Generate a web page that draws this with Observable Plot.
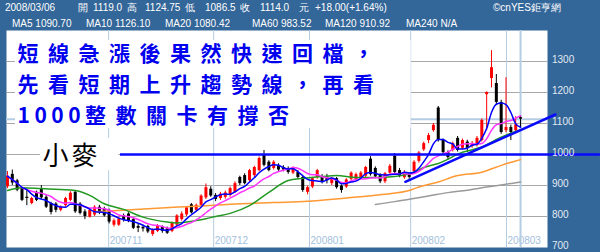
<!DOCTYPE html>
<html><head><meta charset="utf-8">
<script src="https://cdn.jsdelivr.net/npm/d3@7"></script>
<script src="https://cdn.jsdelivr.net/npm/@observablehq/plot@0.6"></script>
<style>
html,body{margin:0;padding:0;background:#336699;}
#wrap{position:relative;width:600px;height:252px;overflow:hidden;background:#336699;}
#head{position:absolute;left:0;top:0;width:600px;height:30px;font-family:"Liberation Sans",Arial,sans-serif;font-size:10px;color:#ffffff;}
#head span{position:absolute;white-space:pre;line-height:10px;}
#chart{position:absolute;left:0;top:30px;}
</style></head>
<body><div id="wrap"><div id="head"></div><div id="chart"></div></div>
<script>
// ---- header texts ----
const headerRow1 = [["2008/03/06",5],["開",78],["1119.0",93],["高",127],["1124.75",145],["低",185],["1086.5",205],["收",240],["1114.0",260],["元",299],["+18.00(+1.64%)",315],["©cnYES鉅亨網",493]];
const headerRow2 = [["MA5 1090.70",12],["MA10 1126.10",86],["MA20 1080.42",165],["MA60 983.52",252],["MA120 910.92",325],["MA240 N/A",406]];

// ---- daily candles (trading-day index 0..106) ----
const OPEN = [896,936,915,890,862,842,878,890,862,842,
840,820,835,852,878,840,815,798,805,830,
825,820,772,772,803,808,790,768,765,768,
742,752,765,760,752,772,790,805,838,820,
836,860,888,868,858,862,868,878,926,932,
916,932,948,997,975,955,965,958,955,940,
942,926,878,895,926,929,928,906,922,898,
895,920,918,925,930,985,955,932,912,940,
995,948,925,935,945,978,1015,1045,1077,1150,
1045,1006,1013,1052,1020,1040,1026,1029,1045,1193,
1245,1229,1168,1077,1087,1077,1119];
const HIGH = [945,950,920,893,884,862,882,900,868,846,
845,834,862,880,882,845,822,826,835,836,
830,824,792,798,808,812,795,776,772,772,
760,774,770,766,782,806,815,832,842,840,
870,905,896,874,878,882,895,912,930,938,
952,962,992,1013,980,980,970,964,960,960,
948,930,898,926,952,935,936,926,926,902,
922,944,940,945,962,993,960,938,942,968,
1003,955,948,940,980,1010,1040,1068,1100,1155,
1050,1012,1040,1058,1050,1046,1042,1058,1115,1202,
1335,1258,1175,1248,1095,1122,1124.75];
const LOW = [890,900,880,848,835,838,848,855,826,805,
812,815,830,848,810,805,790,795,800,806,
798,776,766,768,782,780,758,748,750,745,
736,748,746,742,748,768,785,800,808,815,
830,855,862,848,852,856,862,874,900,902,
910,926,944,960,944,950,945,944,936,935,
920,878,870,890,920,905,905,900,888,875,
890,915,912,920,925,930,922,906,906,935,
938,925,920,920,940,972,1010,1035,1072,1040,
1000,981,1008,1008,1015,1006,1020,1024,1040,1077,
1215,1160,1065,1070,1045,1072,1086.5];
const CLOSE = [930,908,885,852,858,858,852,860,830,813,
820,830,858,875,815,810,800,820,830,812,
802,782,786,792,787,787,762,762,760,750,
756,770,752,746,778,802,808,828,812,836,
866,893,866,855,872,876,890,906,906,906,
948,958,987,965,948,975,950,950,942,955,
926,884,893,922,948,913,915,922,893,884,
918,940,935,940,958,935,928,912,938,962,
942,930,942,926,975,1005,1035,1061,1094,1045,
1006,990,1035,1013,1045,1020,1036,1052,1110,1200,
1280,1168,1071,1087,1071,1096,1114];

// ---- longer moving averages: [index, value] ----
const MA20 = [[0,884],[3,893],[7,890],[11,887],[14,884],[17,868],[20,841],[24,823],[28,798],[33,782],[35,779],[37,782],[39,787],[41,793],[43,800],[46,810],[50,835],[54,878],[58,916],[61,923],[65,929],[68,932],[72,926],[76,926],[80,929],[84,943],[86,958],[89,971],[94,1007],[98,1024],[102,1056],[106,1080]];
const MA60 = [[18,815],[21,818],[30,826],[40,834],[47,840],[55,845],[62,849],[70,860],[78,872],[83,884],[85,895],[89,911],[93,932],[98,943],[102,965],[106,983.5]];
const MA120 = [[76,839],[80,848],[83,856],[87,866],[91,877],[95,885],[99,895],[103,904],[106,911]];

// ---- axes / labels ----
const monthPos = [20.9, 42.6, 62.4, 83.3, 103.1];
const monthLabels = ["200711","200712","200801","200802","200803"];
const yTicks = [700,800,900,1000,1100,1200,1300];
const gridValues = [800,900,1000,1100,1200,1300];
const cursor = {i: 106, close: 1114};

// ---- annotations ----
const noteLines = ["短線急漲後果然快速回檔，","先看短期上升趨勢線，再看","1000整數關卡有撐否"];
const noteCenters = [23.5, 55.2, 85.6];
const noteBox = [{x1: 1.65, x2: 83.4, y1: 1084, y2: 1368}, {x1: 6.8, x2: 23.0, y1: 948, y2: 1052}];
const wheatLabel = "小麥";
const level1000 = {v: 1000, from: 23.35, to: 122.5};
const trendLine = [{i: 82.2, v: 912}, {i: 113.2, v: 1129}];

// header
const head = document.getElementById("head");
for (const [t, x] of headerRow1) { const s = document.createElement("span"); s.textContent = t; s.style.left = x + "px"; s.style.top = "2.5px"; head.appendChild(s); }
for (const [t, x] of headerRow2) { const s = document.createElement("span"); s.textContent = t; s.style.left = x + "px"; s.style.top = "18.5px"; head.appendChild(s); }

const candles = CLOSE.map((c, i) => ({i, open: OPEN[i], high: HIGH[i], low: LOW[i], close: c}));
const col = d => d.close >= d.open ? "#ff0000" : "#000000";
const months = monthPos.map((p, k) => ({i: p, label: monthLabels[k]}));
const toPts = a => a.map(([i, v]) => ({i, v}));

const BLUE = "#0a0aff";
const marks = [
  Plot.frame({fill: "white", stroke: "none"}),
  Plot.ruleY(gridValues, {stroke: "#a8a8a8", strokeWidth: 1.2}),
  Plot.ruleX(months, {x: "i", stroke: "#b4cde3"}),
  Plot.text(months, {x: "i", text: "label", frameAnchor: "bottom", dy: -4, dx: 1, textAnchor: "start", fill: "#a3c0dc", fontSize: 10}),
  Plot.ruleX([cursor], {x: "i", stroke: "#b4cde3", strokeWidth: 2}),
  Plot.ruleY([cursor], {y: "close", stroke: "#b4cde3", strokeWidth: 2}),
  Plot.rect(noteBox, {x1: "x1", x2: "x2", y1: "y1", y2: "y2", fill: "white"}),
  Plot.ruleX(candles, {x: "i", y1: "low", y2: "high", stroke: col, strokeWidth: 1}),
  Plot.ruleX(candles, {x: "i", y1: "open", y2: "close", stroke: col, strokeWidth: 3}),
  Plot.line(toPts(MA120), {x: "i", y: "v", stroke: "#9a9a9a", curve: "monotone-x"}),
  Plot.line(toPts(MA60), {x: "i", y: "v", stroke: "#ff9933", curve: "monotone-x"}),
  Plot.line(toPts(MA20), {x: "i", y: "v", stroke: "#229922", curve: "monotone-x"}),
  Plot.lineY(candles, Plot.windowY({k: 10, anchor: "end"}, {x: "i", y: "close", stroke: "#ff33ff", curve: "monotone-x"})),
  Plot.lineY(candles, Plot.windowY({k: 5, anchor: "end"}, {x: "i", y: "close", stroke: "#0000ff", curve: "monotone-x"})),
  Plot.ruleY([level1000], {y: "v", x1: "from", x2: "to", stroke: BLUE, strokeWidth: 2.5}),
  Plot.line(trendLine, {x: "i", y: "v", stroke: BLUE, strokeWidth: 2.5}),
  ...noteLines.map((t, k) => Plot.text([t], {text: d => d, frameAnchor: "top-left", dx: 11, dy: noteCenters[k], textAnchor: "start", lineAnchor: "middle", fill: "#0000ee", fontSize: 21, fontWeight: "bold", fontFamily: "Noto Sans CJK TC"})),
  Plot.text([wheatLabel], {text: d => d, frameAnchor: "top-left", dx: 36, dy: 126, textAnchor: "start", lineAnchor: "middle", fill: "#000000", fontSize: 26, fontFamily: "Noto Sans CJK TC"}),
  Plot.text(yTicks, {y: d => d, text: d => String(d), frameAnchor: "right", dx: 4.5, dy: -1.5, textAnchor: "start", fill: "#e2eaf3", fontSize: 10})
];

const chart = Plot.plot({
  width: 600, height: 222,
  marginTop: 0, marginBottom: 5, marginLeft: 6, marginRight: 53,
  x: {domain: [-0.2, 111.57], axis: null},
  y: {domain: [700, 1400], axis: null},
  color: {type: "identity"},
  style: {background: "transparent", fontFamily: "'Liberation Sans', Arial, sans-serif", fontSize: "10px", color: "#000"},
  marks
});
// letter spacing for the annotation texts (the reference uses a wide CJK pitch)
const SVGNS = "http://www.w3.org/2000/svg";
chart.querySelectorAll("text").forEach(t => {
  const s = t.textContent;
  if (s === wheatLabel) t.style.letterSpacing = "3px";
  else if (noteLines.includes(s)) {
    t.style.letterSpacing = "9.5px";
    const m = s.match(/^(\d+)(.*)$/);
    if (m) {
      t.textContent = "";
      const a = document.createElementNS(SVGNS, "tspan"); a.textContent = m[1]; a.style.letterSpacing = "4.5px";
      const b = document.createElementNS(SVGNS, "tspan"); b.textContent = m[2];
      t.appendChild(a); t.appendChild(b);
    }
  }
});
document.getElementById("chart").appendChild(chart);
</script>
</body></html>
